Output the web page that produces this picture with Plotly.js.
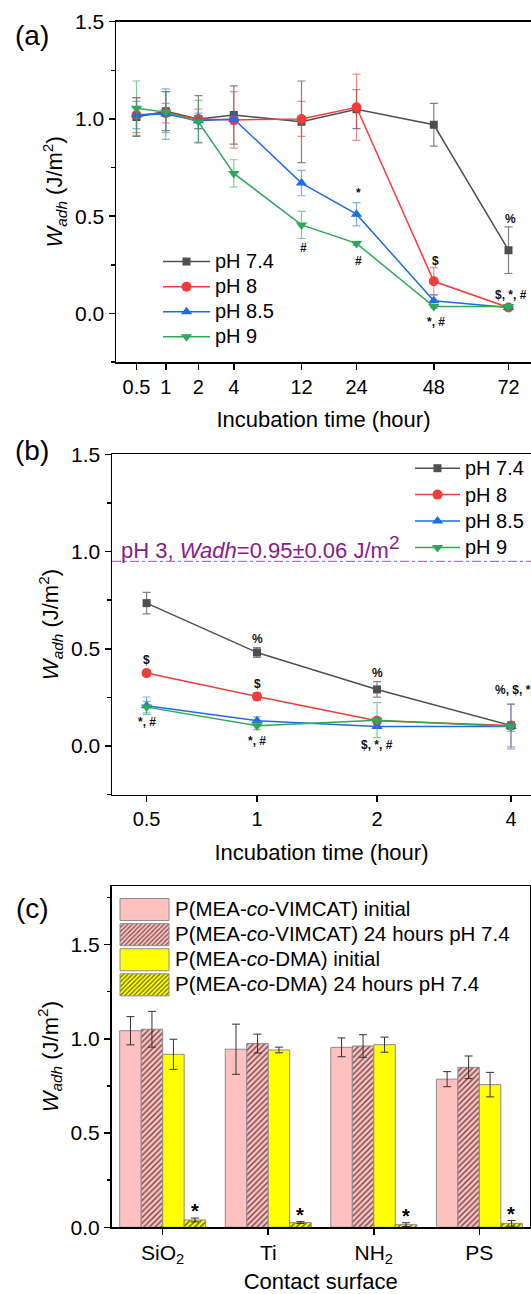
<!DOCTYPE html>
<html><head><meta charset="utf-8">
<script src="https://cdn.plot.ly/plotly-3.0.1.min.js"></script>
<style>html,body{margin:0;padding:0;background:#fff}#chart{width:531px;height:1294px}</style>
</head><body><div id="chart"></div>
<script>
// ---------------- Panel (a) data ----------------
const timeA = [0.5, 1, 2, 4, 12, 24, 48, 72];
const a_pH74    = [1.01, 1.04, 1.00, 1.02, 0.985, 1.05, 0.97, 0.325];
const a_pH74_sd = [0.10, 0.10, 0.12, 0.15, 0.21, 0.10, 0.11, 0.12];
const a_pH8     = [1.02, 1.03, 1.00, 0.995, 1.00, 1.06, 0.165, 0.03];
const a_pH8_sd  = [0.09, 0.05, 0.05, 0.145, 0.09, 0.17, 0.07, 0.01];
const a_pH85    = [1.02, 1.025, 0.99, 1.00, 0.67, 0.51, 0.065, 0.03];
const a_pH85_sd = [0.07, 0.13, 0.04, 0.03, 0.065, 0.06, 0.03, 0.01];
const a_pH9     = [1.055, 1.035, 0.985, 0.72, 0.455, 0.36, 0.035, 0.035];
const a_pH9_sd  = [0.14, 0.105, 0.11, 0.07, 0.07, 0.01, 0.01, 0.01];
const marksA_t    = [12, 24, 24, 48, 48, 72, 72];
const marksA_y    = [0.336, 0.619, 0.267, 0.267, -0.042, 0.487, 0.096];
const marksA_text = ['#', '*', '#', '$', '*, #', '%', '$, *, #'];

// ---------------- Panel (b) data ----------------
const timeB = [0.5, 1, 2, 4];
const b_pH74    = [0.735, 0.481, 0.291, 0.105];
const b_pH74_sd = [0.055, 0.025, 0.04, 0.01];
const b_pH8     = [0.375, 0.255, 0.13, 0.105];
const b_pH8_sd  = [0.01, 0.02, 0.01, 0.11];
const b_pH85    = [0.207, 0.13, 0.10, 0.10];
const b_pH85_sd = [0.045, 0.02, 0.01, 0.115];
const b_pH9     = [0.20, 0.104, 0.133, 0.10];
const b_pH9_sd  = [0.03, 0.02, 0.09, 0.025];
const marksB_t    = [0.5, 0.5, 1, 1, 1, 2, 2, 4];
const marksB_y    = [0.44, 0.125, 0.551, 0.319, 0.024, 0.375, 0.007, 0.289];
const marksB_text = ['$', '*, #', '%', '$', '*, #', '%', '$, *, #', '%, $, *, #'];
const refPH3 = 0.95, refPH3_sd = 0.06;

// ---------------- Panel (c) data ----------------
const surfaces      = ['SiO2', 'Ti', 'NH2', 'PS'];
const surfaceLabels = ['SiO<sub>2</sub>', 'Ti', 'NH<sub>2</sub>', 'PS'];
const vimcatInit    = [1.043, 0.945, 0.955, 0.786];
const vimcatInit_sd = [0.075, 0.133, 0.05, 0.04];
const vimcat24      = [1.051, 0.975, 0.962, 0.849];
const vimcat24_sd   = [0.095, 0.05, 0.06, 0.06];
const dmaInit       = [0.918, 0.941, 0.969, 0.757];
const dmaInit_sd    = [0.08, 0.015, 0.04, 0.065];
const dma24         = [0.039, 0.025, 0.014, 0.021];
const dma24_sd      = [0.01, 0.005, 0.01, 0.015];

// ---------------- axis scales (layout) ----------------
// the time axes of the original are non-uniform: offset (px) of every tick from the left axis line
const scaleA = {0.5: 20.5, 1: 49.8, 2: 82.4, 4: 117.8, 12: 185.5, 24: 240.5, 48: 317.8, 72: 392.5};
const scaleB = {0.5: 34.6, 1: 145, 2: 265, 4: 399};
const posA = t => scaleA[t];
const posB = t => scaleB[t];

const FONT = 'Liberation Sans, Arial, sans-serif';
const COL = {g: '#4f4f4f', r: '#f23b3b', b: '#1e6ce6', gr: '#2ea85a'};
const ECOL = {g: 'rgba(80,80,80,0.7)', r: 'rgba(242,59,59,0.6)', b: 'rgba(30,108,230,0.55)', gr: 'rgba(46,168,90,0.6)'};
const SYM = {g: 'square', r: 'circle', b: 'triangle-up', gr: 'triangle-down'};
const NAMES = {g: 'pH 7.4', r: 'pH 8', b: 'pH 8.5', gr: 'pH 9'};

function lineTrace(key, times, pos, vals, sd, xa, ya, leg) {
  return {
    type: 'scatter', mode: 'lines+markers', xaxis: xa, yaxis: ya, legend: leg,
    name: '<span style="font-size:20px">' + NAMES[key] + '</span>',
    x: times.map(pos), y: vals,
    line: {color: COL[key], width: 1.5},
    marker: {symbol: SYM[key], color: COL[key], size: key === 'g' ? 8 : 10, line: {width: 0}},
    error_y: {type: 'data', array: sd, visible: true, color: ECOL[key], thickness: 1.2, width: 4}
  };
}

const traces = [
  lineTrace('g', timeA, posA, a_pH74, a_pH74_sd, 'x', 'y', 'legend'),
  lineTrace('r', timeA, posA, a_pH8, a_pH8_sd, 'x', 'y', 'legend'),
  lineTrace('b', timeA, posA, a_pH85, a_pH85_sd, 'x', 'y', 'legend'),
  lineTrace('gr', timeA, posA, a_pH9, a_pH9_sd, 'x', 'y', 'legend'),
  lineTrace('g', timeB, posB, b_pH74, b_pH74_sd, 'x2', 'y2', 'legend2'),
  lineTrace('r', timeB, posB, b_pH8, b_pH8_sd, 'x2', 'y2', 'legend2'),
  lineTrace('b', timeB, posB, b_pH85, b_pH85_sd, 'x2', 'y2', 'legend2'),
  lineTrace('gr', timeB, posB, b_pH9, b_pH9_sd, 'x2', 'y2', 'legend2')
];

const PINK = '#ffc0c0', YEL = '#ffff00';
function barTrace(name, vals, sd, color, pattern) {
  const t = {
    type: 'bar', xaxis: 'x3', yaxis: 'y3', legend: 'legend3',
    name: '<span style="font-size:20.5px">' + name + '</span>',
    x: surfaces, y: vals,
    marker: {color: color, line: {color: '#8c8c8c', width: 1}},
    error_y: {type: 'data', array: sd, visible: true, color: '#333', thickness: 1, width: 4}
  };
  if (pattern) t.marker.pattern = pattern;
  return t;
}
traces.push(
  barTrace('P(MEA-<i>co</i>-VIMCAT) initial', vimcatInit, vimcatInit_sd, PINK),
  barTrace('P(MEA-<i>co</i>-VIMCAT) 24 hours pH 7.4', vimcat24, vimcat24_sd, PINK,
    {shape: '/', bgcolor: PINK, fgcolor: '#6e4646', size: 4, solidity: 0.35}),
  barTrace('P(MEA-<i>co</i>-DMA) initial', dmaInit, dmaInit_sd, YEL),
  barTrace('P(MEA-<i>co</i>-DMA) 24 hours pH 7.4', dma24, dma24_sd, YEL,
    {shape: '/', bgcolor: YEL, fgcolor: '#5a5a10', size: 4, solidity: 0.35})
);

const W = 531, H = 1294;
const px = v => v / W, py = v => 1 - v / H;
const YTITLE = '<i>W<sub>adh</sub></i> (J/m<sup>2</sup>)';

function yax(dom, range, mirror, anchor) {
  return {
    anchor: anchor, domain: dom, range: range, showline: true, linecolor: '#000', linewidth: 1.5,
    mirror: mirror, ticks: 'outside', ticklen: 6, tickwidth: 1.5, tickcolor: '#000',
    dtick: 0.5, tick0: 0, tickformat: '.1f', showgrid: false, zeroline: false,
    minor: {dtick: 0.25, ticks: 'outside', ticklen: 3.5, tickwidth: 1.5, tickcolor: '#000'},
    tickfont: {size: 21}, title: {text: YTITLE, font: {size: 22}, standoff: 6}
  };
}
function xax(dom, range, tickvals, ticktext, title, anchor, extra) {
  return Object.assign({
    anchor: anchor, domain: dom, range: range, showline: true, linecolor: '#000', linewidth: 1.5,
    mirror: true, ticks: 'outside', ticklen: 6, tickwidth: 1.5, tickcolor: '#000',
    tickmode: 'array', tickvals: tickvals, ticktext: ticktext,
    showgrid: false, zeroline: false, tickfont: {size: 20},
    title: {text: title, font: {size: 22}, standoff: 15}
  }, extra || {});
}

const annotations = [];
function mark(xref, yref, x, y, text, xshift) {
  annotations.push({xref: xref, yref: yref, x: x, y: y, text: '<b>' + text + '</b>', showarrow: false,
    font: {size: 12, color: '#111'}, yanchor: 'middle', xshift: xshift || 0});
}
marksA_t.forEach((t, i) => mark('x', 'y', posA(t), marksA_y[i], marksA_text[i], 2));
marksB_t.forEach((t, i) => mark('x2', 'y2', posB(t), marksB_y[i], marksB_text[i], marksB_text[i].length > 8 ? 8 : 0));
// significance stars over the 24 h P(MEA-co-DMA) bars
surfaces.forEach((s, i) => annotations.push({xref: 'x3', yref: 'y3', x: s, y: dma24[i] + dma24_sd[i],
  text: '<b>*</b>', showarrow: false, font: {size: 20, color: '#000'}, yanchor: 'bottom', xshift: 32, yshift: -6}));
// panel letters
[['(a)', 36], ['(b)', 450], ['(c)', 908]].forEach(([t, y]) => annotations.push({xref: 'paper', yref: 'paper',
  x: px(32), y: py(y), text: t, showarrow: false, font: {size: 28, color: '#000'}, xanchor: 'center', yanchor: 'middle'}));
// pH 3 reference label
annotations.push({xref: 'paper', yref: 'y2', x: px(119), y: refPH3, yanchor: 'bottom', xanchor: 'left', yshift: -4,
  text: 'pH 3, <i>Wadh</i>=' + refPH3.toFixed(2) + '±' + refPH3_sd.toFixed(2) +
    ' J/m<sup><span style="font-size:19px">2</span></sup>',
  showarrow: false, font: {size: 22, color: '#8a1a8a'}});

const layout = {
  width: W, height: H, margin: {l: 0, r: 0, t: 0, b: 0}, autosize: false,
  paper_bgcolor: '#fff', plot_bgcolor: '#fff',
  font: {family: FONT, color: '#000'},
  barmode: 'group', bargap: 0.186, bargroupgap: 0,
  xaxis: xax([px(116), 1], [0, 415], timeA.map(posA), timeA.map(String), 'Incubation time (hour)', 'y'),
  yaxis: yax([py(362), py(21.7)], [-0.25, 1.5], false, 'x'),
  xaxis2: xax([px(112), 1], [0, 419], timeB.map(posB), timeB.map(String), 'Incubation time (hour)', 'y2'),
  yaxis2: yax([py(794.6), py(454.4)], [-0.25, 1.5], false, 'x2'),
  xaxis3: xax([px(111.5), px(530)], [-0.485, 3.48], surfaces, surfaceLabels, 'Contact surface', 'y3',
    {type: 'category', tickfont: {size: 21}}),
  yaxis3: yax([py(1227.3), py(886)], [0, 1.811], true, 'x3'),
  legend: {x: px(158), y: py(244), xanchor: 'left', yanchor: 'top', bgcolor: 'rgba(0,0,0,0)',
    font: {size: 17}, itemwidth: 47, tracegroupgap: 0},
  legend2: {x: px(410), y: py(450), xanchor: 'left', yanchor: 'top', bgcolor: 'rgba(0,0,0,0)',
    font: {size: 18}, itemwidth: 45, tracegroupgap: 0},
  legend3: {x: px(114), y: py(892), xanchor: 'left', yanchor: 'top', bgcolor: 'rgba(0,0,0,0)',
    font: {size: 17}, itemwidth: 51, tracegroupgap: 0},
  shapes: [{type: 'line', xref: 'x2 domain', yref: 'y2', x0: 0, x1: 1, y0: refPH3, y1: refPH3,
    line: {color: '#c040c0', width: 1, dash: 'dashdot'}}],
  annotations: annotations,
  showlegend: true
};

Plotly.newPlot('chart', traces, layout, {staticPlot: true, displayModeBar: false}).then(() => {
  // enlarge the bar-legend swatches to the boxes used in the original
  document.querySelectorAll('g.legend3 g.legendpoints path').forEach(p => {
    p.setAttribute('d', 'M24.5,11H-24.5V-11H24.5Z');
  });
});
</script></body></html>
